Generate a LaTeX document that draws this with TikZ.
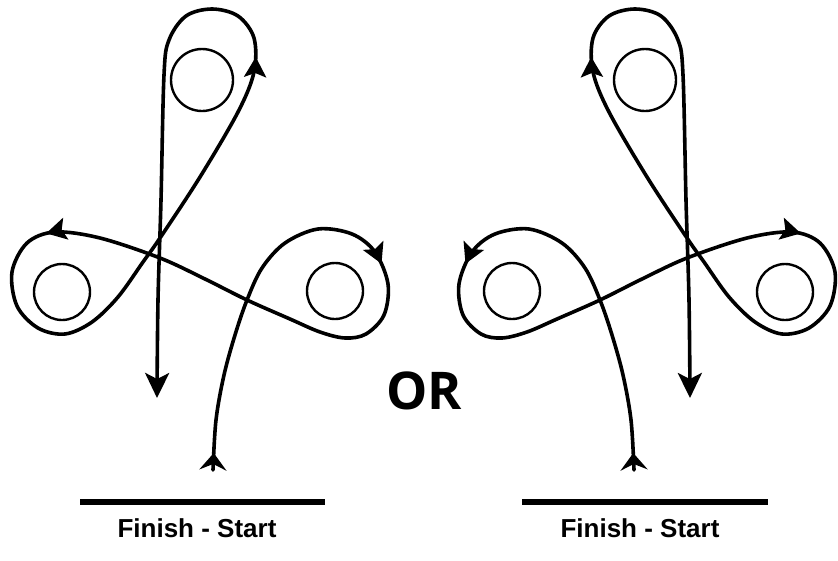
\documentclass[tikz,border=0pt]{standalone}
\usepackage{fontspec}
\setmainfont{Liberation Sans}
\newfontfamily\orfont{Open Sans}
\usetikzlibrary{arrows.meta,decorations.markings}

\begin{document}
\begin{tikzpicture}[
    x=1pt, y=-1pt,
    barrel/.style={circle, draw, line width=2.4pt, inner sep=0pt, minimum size=#1},
    barrel/.default=56pt,
    turn/.tip={Stealth[length=20pt, width=22pt, inset=4pt]},
    route/.style={line width=3.6pt, line cap=round, line join=round,
        -{Stealth[length=25pt, width=24pt, inset=6pt]},
        postaction={decorate},
        decoration={markings,
            mark=at position 17pt with {\arrow{Stealth[length=17pt, width=27pt, inset=6pt]}},
            mark=at position 0.203 with {\arrow{turn}},
            mark=at position 0.442 with {\arrow{turn}},
            mark=at position 0.722 with {\arrow{turn}}}},
    gate/.style={line width=6pt},
    caption/.style={font=\bfseries\fontsize{26}{30}\selectfont}
]
\useasboundingbox (0,0) rectangle (838,560);

% the pattern, once as drawn and once mirrored
\foreach \side/\sh/\sc in {L/0/1, R/847/-1}{
  \begin{scope}[xshift=\sh pt, xscale=\sc]
    \node[barrel=62pt] (top\side) at (202,80) {};
    \node[barrel] (left\side) at (62,292) {};
    \node[barrel] (right\side) at (335,291) {};
    \draw[route] plot[smooth, tension=0.55] coordinates {
      (213,470) (216,420) (224,375) (235,335) (247,300) (262,268) (285,243)
      (318,229) (352,234) (375,252) (388,284) (384,315) (366,334) (345,338)
      (320,332) (290,319) (247,300) (205,279) (160,258) (100,238) (55,232)
      (27,243) (12,272) (17,306) (38,328) (65,334) (92,322) (118,297)
      (143,262) (160,238) (200,177) (238,112) (254,72) (254,38) (238,16)
      (212,9) (186,16) (169,40) (164,75) (161,200) (158,300) (157,398)};
  \end{scope}
}

% start lines
\draw[gate] (80,502) -- (325,502);
\draw[gate] (522,502) -- (768,502);
\node[caption] (gateL) at (197,528) {Finish - Start};
\node[caption] (gateR) at (640,528) {Finish - Start};

\node[font=\orfont\bfseries\fontsize{52}{60}\selectfont] (or) at (424,391) {OR};
\end{tikzpicture}
\end{document}
